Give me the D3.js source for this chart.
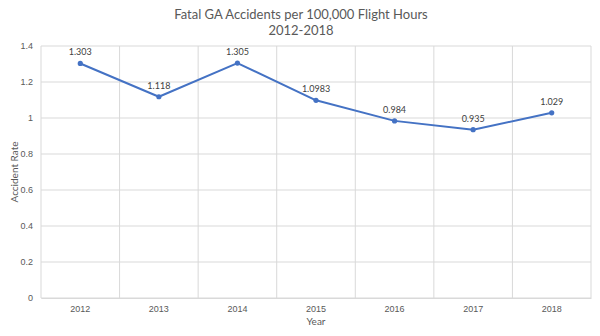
<!DOCTYPE html>
<html>
<head>
<meta charset="utf-8">
<script src="https://cdn.jsdelivr.net/npm/d3@7"></script>
<style>
  body { margin: 0; background: #fff; }
  svg { display: block; font-family: Lato, "Open Sans", "Liberation Sans", sans-serif; }
</style>
</head>
<body>
<svg id="chart" width="600" height="336"></svg>
<script>
// Fatal general-aviation accident rate per 100,000 flight hours
const years = ["2012", "2013", "2014", "2015", "2016", "2017", "2018"];
const rates = [1.303, 1.118, 1.305, 1.0983, 0.984, 0.935, 1.029];
const rateLabels = ["1.303", "1.118", "1.305", "1.0983", "0.984", "0.935", "1.029"];
const yTicks = [0, 0.2, 0.4, 0.6, 0.8, 1, 1.2, 1.4];

const svg = d3.select("#chart");
const margin = { top: 46, right: 9, bottom: 38, left: 41 };
const W = 600, H = 336;
const iw = W - margin.left - margin.right;
const ih = H - margin.top - margin.bottom;

const g = svg.append("g").attr("transform", `translate(${margin.left},${margin.top})`);

const x = d3.scaleBand().domain(years).range([0, iw]).paddingInner(0).paddingOuter(0);
const y = d3.scaleLinear().domain([0, 1.4]).range([ih, 0]);

const gridColor = "#d9d9d9";

// horizontal gridlines
g.selectAll(".hgrid").data(yTicks).join("line")
  .attr("x1", 0).attr("x2", iw)
  .attr("y1", d => y(d)).attr("y2", d => y(d))
  .attr("stroke", gridColor).attr("stroke-width", 1);

// vertical gridlines at category boundaries
const bounds = years.map(d => x(d)).concat([iw]);
g.selectAll(".vgrid").data(bounds).join("line")
  .attr("x1", d => d).attr("x2", d => d)
  .attr("y1", 0).attr("y2", ih)
  .attr("stroke", gridColor).attr("stroke-width", 1);

// y axis tick labels
const yAxis = d3.axisLeft(y).tickValues(yTicks).tickSize(0).tickPadding(8)
  .tickFormat(d => d3.format("~g")(d));
const ya = g.append("g").call(yAxis);
ya.select(".domain").remove();
ya.selectAll("text").attr("fill", "#595959").style("font-size", "9px");

// x axis tick labels
const xAxis = d3.axisBottom(x).tickSize(0).tickPadding(8);
const xa = g.append("g").attr("transform", `translate(0,${ih})`).call(xAxis);
xa.select(".domain").attr("stroke", gridColor);
xa.selectAll("text").attr("fill", "#595959").style("font-size", "9px");

// series line
const cx = d => x(d) + x.bandwidth() / 2;
const line = d3.line().x((d, i) => cx(years[i])).y(d => y(d));
g.append("path").datum(rates)
  .attr("d", line)
  .attr("fill", "none")
  .attr("stroke", "#4472C4")
  .attr("stroke-width", 2)
  .attr("stroke-linejoin", "round");

// markers
g.selectAll(".pt").data(rates).join("circle")
  .attr("cx", (d, i) => cx(years[i]))
  .attr("cy", d => y(d))
  .attr("r", 2.6)
  .attr("fill", "#4472C4");

// data labels
g.selectAll(".lbl").data(rates).join("text")
  .attr("x", (d, i) => cx(years[i]))
  .attr("y", d => y(d) - 8)
  .attr("text-anchor", "middle")
  .attr("fill", "#404040")
  .style("font-size", "9px")
  .text((d, i) => rateLabels[i]);

// titles
svg.append("text")
  .attr("x", 301).attr("y", 19)
  .attr("text-anchor", "middle")
  .attr("fill", "#595959")
  .style("font-size", "13px")
  .text("Fatal GA Accidents per 100,000 Flight Hours");
svg.append("text")
  .attr("x", 301).attr("y", 35)
  .attr("text-anchor", "middle")
  .attr("fill", "#595959")
  .style("font-size", "13px")
  .text("2012-2018");

// axis titles
svg.append("text")
  .attr("x", margin.left + iw / 2).attr("y", 325)
  .attr("text-anchor", "middle")
  .attr("fill", "#595959")
  .style("font-size", "10px")
  .text("Year");
svg.append("text")
  .attr("transform", `translate(18,${margin.top + ih / 2}) rotate(-90)`)
  .attr("text-anchor", "middle")
  .attr("fill", "#595959")
  .style("font-size", "10px")
  .text("Accident Rate");
</script>
</body>
</html>
